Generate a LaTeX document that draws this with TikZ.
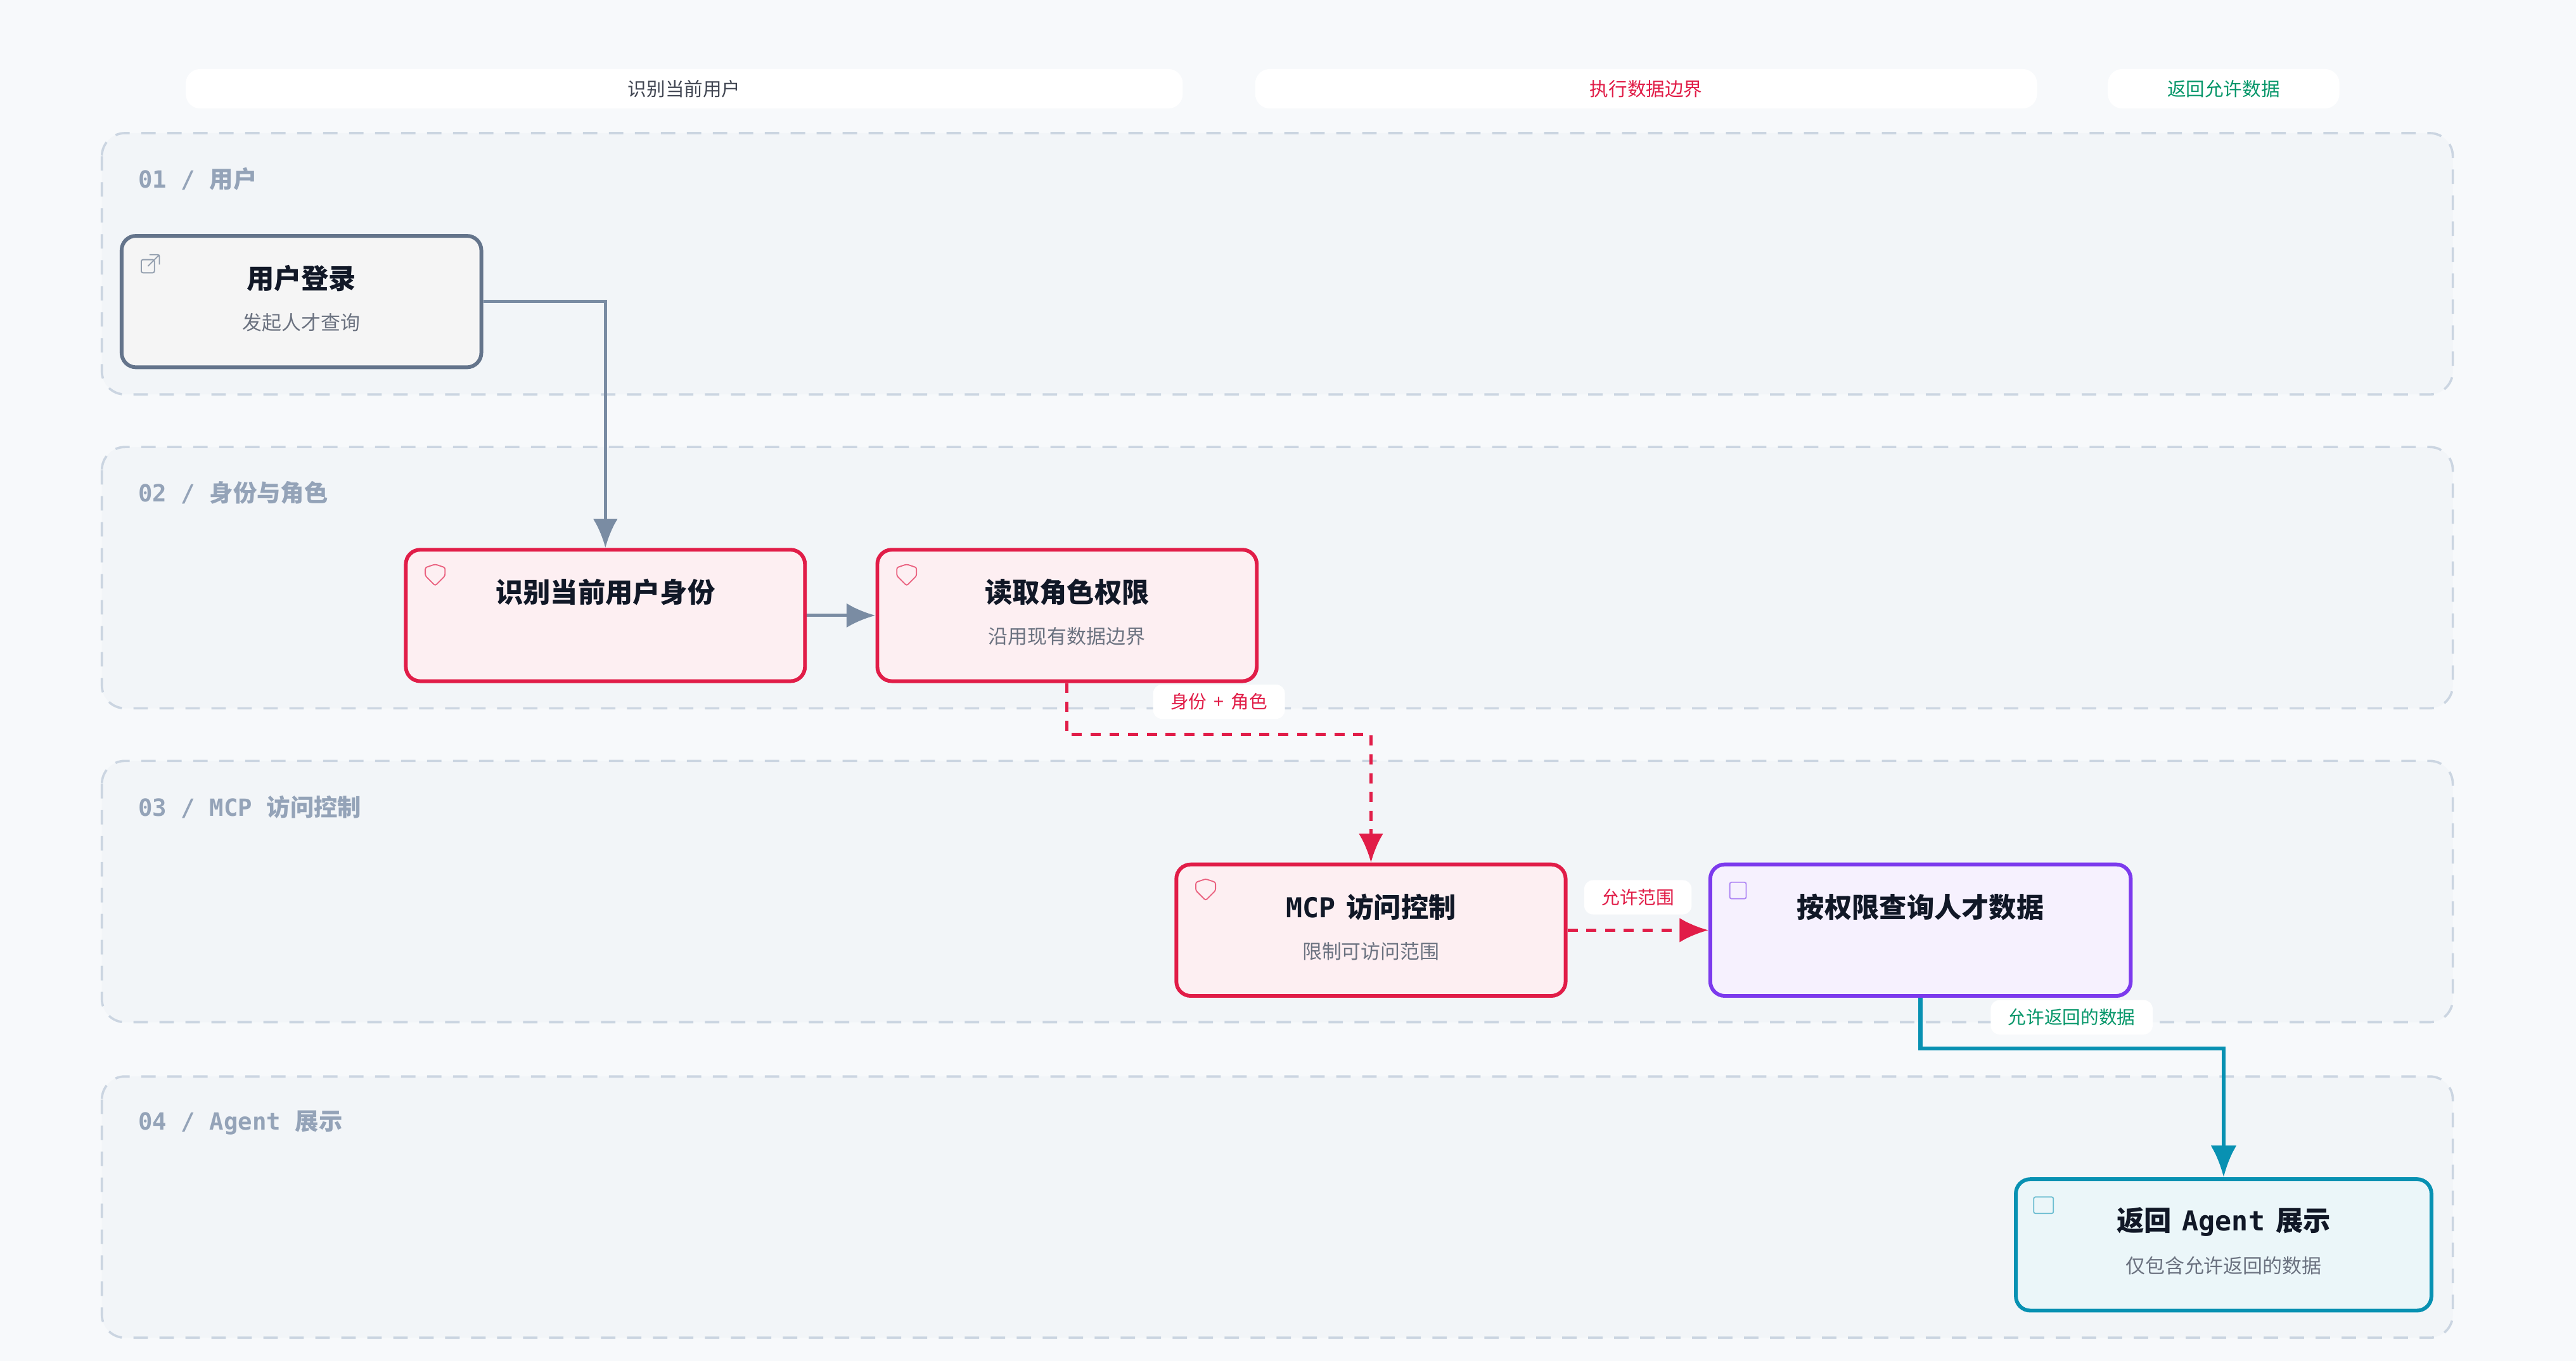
\documentclass[tikz,border=0pt]{standalone}
\usepackage{fontspec}
\setmainfont{Noto Sans CJK SC}
\newfontfamily\monof{DejaVu Sans Mono}
\usetikzlibrary{arrows.meta, positioning, calc}
\definecolor{pgbg}{HTML}{F7F9FB}
\definecolor{lanefill}{HTML}{F2F5F8}
\definecolor{laneline}{HTML}{CBD5E1}
\definecolor{lanetext}{HTML}{94A3B8}
\definecolor{slgray}{HTML}{64748B}
\definecolor{slarrow}{HTML}{7A8CA3}
\definecolor{txdark}{HTML}{111827}
\definecolor{txsub}{HTML}{6B7280}
\definecolor{idred}{HTML}{E11D48}
\definecolor{idpurple}{HTML}{7C3AED}
\definecolor{idteal}{HTML}{0891B2}
\definecolor{idgreen}{HTML}{059669}

\begin{document}
\begin{tikzpicture}[
  x=0.02cm, y=-0.02cm,
  lane/.style={draw=laneline, fill=lanefill, line width=0.8pt, dash pattern=on 5pt off 4pt, rounded corners=8pt},
  lanelbl/.style={anchor=west, text=lanetext, font=\fontsize{8.2}{9}\selectfont\bfseries},
  pill/.style={fill=white, rounded corners=5pt, font=\fontsize{6.5}{8}\selectfont},
  stepbox/.style={rectangle, rounded corners=5pt, line width=1.3pt, minimum height=1.6cm},
  ttl/.style={text=txdark, font=\fontsize{9.5}{11}\selectfont\bfseries},
  sub/.style={text=txsub, font=\fontsize{6.8}{8}\selectfont},
  elbl/.style={fill=white, rounded corners=3pt, inner xsep=6pt, inner ysep=3pt, font=\fontsize{6.3}{7}\selectfont},
  icon/.style={line width=0.4pt, rounded corners=0.6pt},
  tip/.style={-{Latex[length=10pt, width=8.5pt]}},
]
\useasboundingbox[fill=pgbg] (0,0) rectangle (1568,828);

% header pills
\node[pill, minimum width=12.14cm, minimum height=0.48cm, text=txdark!80] (h1) at (416.5,54) {识别当前用户};
\node[pill, minimum width=9.52cm, minimum height=0.48cm, text=idred] (h2) at (1002,54) {执行数据边界};
\node[pill, minimum width=2.82cm, minimum height=0.48cm, text=idgreen] (h3) at (1353.5,54) {返回允许数据};

% lanes
\foreach \y/\lbl in {81/{{\monof 01 / }用户}, 272/{{\monof 02 / }身份与角色}, 463/{{\monof 03 / MCP }访问控制}, 655/{{\monof 04 / Agent }展示}} {
  \draw[lane] (62,\y) rectangle (1493,\y+159);
  \node[lanelbl] at (78,\y+28) {\lbl};
}

% steps
\node[stepbox, draw=slgray, fill=gray!8, minimum width=4.38cm] (login) at (183.5,183.5) {};
\node[ttl] at ($(login.north)+(0,27)$) {用户登录};
\node[sub] at ($(login.north)+(0,54)$) {发起人才查询};

\node[stepbox, draw=idred, fill=idred!7, minimum width=4.86cm] (ident) at (368.5,374.5) {};
\node[ttl] at ($(ident.north)+(0,27)$) {识别当前用户身份};

\node[stepbox, draw=idred, fill=idred!7, minimum width=4.62cm] (role) at (649.5,374.5) {};
\node[ttl] at ($(role.north)+(0,27)$) {读取角色权限};
\node[sub] at ($(role.north)+(0,54)$) {沿用现有数据边界};

\node[stepbox, draw=idred, fill=idred!7, minimum width=4.74cm] (mcp) at (834.5,566) {};
\node[ttl] at ($(mcp.north)+(0,27)$) {{\monof MCP}\, 访问控制};
\node[sub] at ($(mcp.north)+(0,54)$) {限制可访问范围};

\node[stepbox, draw=idpurple, fill=idpurple!7, minimum width=5.12cm] (query) at (1169,566) {};
\node[ttl] at ($(query.north)+(0,27)$) {按权限查询人才数据};

\node[stepbox, draw=idteal, fill=idteal!8, minimum width=5.06cm] (ret) at (1353.5,757.5) {};
\node[ttl] at ($(ret.north)+(0,27)$) {返回\, {\monof Agent}\, 展示};
\node[sub] at ($(ret.north)+(0,54)$) {仅包含允许返回的数据};

% icons
\draw[icon, draw=slgray!70] (86,158) rectangle (94,166) (91,155) -- (97,155) -- (97,161) (97,155) -- (90,162);
\foreach \n/\c in {ident/idred, role/idred, mcp/idred} {
  \draw[icon, draw=\c!70] ($(\n.north west)+(13,12)$) -- ++(6,-2) -- ++(6,2) -- ++(0,5) -- ++(-6,6) -- ++(-6,-6) -- cycle;
}
\draw[icon, draw=idpurple!60] ($(query.north west)+(13,12)$) rectangle ++(10,10);
\draw[icon, draw=idteal!60] ($(ret.north west)+(12,12)$) rectangle ++(12,10);

% connectors
\draw[slarrow, line width=1.1pt, tip] (login.east) -| (ident.north);
\draw[slarrow, line width=1.1pt, tip] (ident) -- (role);
\draw[idred, line width=1.1pt, dash pattern=on 3.5pt off 3pt, tip] (role.south) |- (742,447) -| (mcp.north);
\node[elbl, text=idred] (lbl1) at (742,427) {身份\, + \,角色};
\draw[idred, line width=1.1pt, dash pattern=on 3.5pt off 3pt, tip] (mcp) -- (query);
\node[elbl, text=idred] (lbl2) at (997,546) {允许范围};
\draw[idteal, line width=1.4pt, -{Latex[length=11pt, width=9pt]}] (query.south) |- (1261,638) -| (ret.north);
\node[elbl, text=idgreen] (lbl3) at (1261,619) {允许返回的数据};
\end{tikzpicture}
\end{document}
